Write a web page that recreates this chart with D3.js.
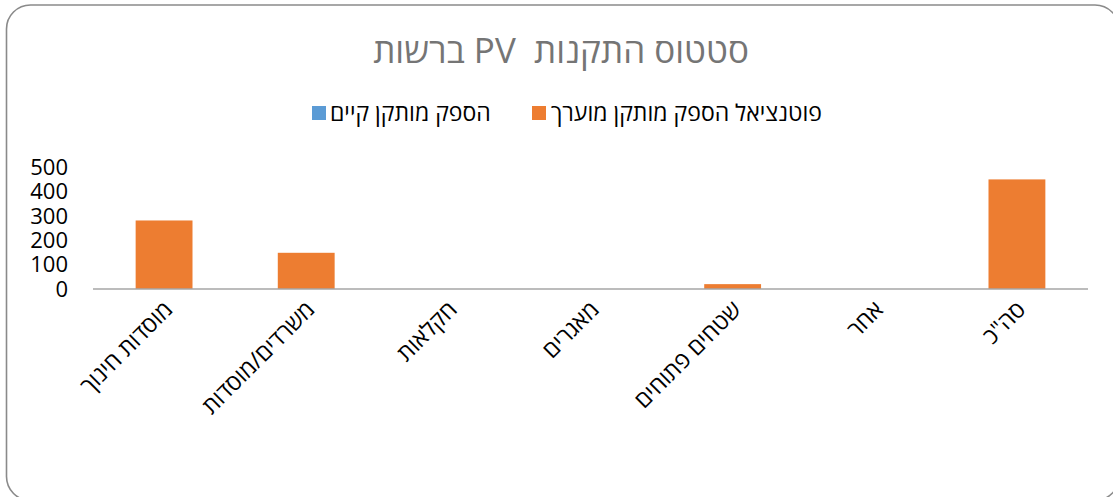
<!DOCTYPE html>
<html><head><meta charset="utf-8">
<script src="https://cdn.jsdelivr.net/npm/d3@7"></script>
<style>html,body{margin:0;padding:0;background:#fff;}svg{display:block;}</style>
</head><body>
<svg id="c" width="1113" height="497"></svg>
<script>
const categories = ["מוסדות חינוך","משרדים/מוסדות","חקלאות","מאגרים","שטחים פתוחים","אחר","סה\"כ"];
const seriesNames = ["פוטנציאל הספק מותקן מוערך","הספק מותקן קיים"];
const potentialValues = [282, 149, 0, 0, 20, 0, 451];
const existingValues = [0, 0, 0, 0, 0, 0, 0];
const yTicks = [0, 100, 200, 300, 400, 500];
const titleText = "סטטוס התקנות  PV ברשות";

const FONT = "'Open Sans','DejaVu Sans',sans-serif";
const colors = ["#ED7D31", "#5B9BD5"];
const svg = d3.select("#c");

// border
svg.append("rect").attr("x",6.5).attr("y",5).attr("width",1112.5).attr("height",495.5)
  .attr("rx",24).attr("ry",24).attr("fill","#fff").attr("stroke","#8a8a8a").attr("stroke-width",1.6);

// title
svg.append("text").attr("x",561).attr("y",63).attr("text-anchor","middle").attr("direction","rtl")
  .style("white-space","pre")
  .attr("font-family",FONT).attr("font-size",35).attr("fill","#757575").text(titleText);

const x = d3.scaleBand().domain(categories).range([93,1088]).paddingInner(0.6).paddingOuter(0.3);
const y = d3.scaleLinear().domain([0,500]).range([289,167.5]);

// bars
const seriesData = [existingValues, potentialValues];
const seriesColors = [colors[1], colors[0]];
seriesData.forEach((vals,si)=>{
  svg.append("g").selectAll("rect").data(categories).join("rect")
    .attr("x",d=>x(d)).attr("width",x.bandwidth())
    .attr("y",(d,i)=>y(vals[i])).attr("height",(d,i)=>y(0)-y(vals[i]))
    .attr("fill",seriesColors[si]);
});

// y axis (labels only)
const yAxis = d3.axisLeft(y).tickValues(yTicks).tickSize(0).tickPadding(0);
const yg = svg.append("g").attr("transform","translate(68,0)").call(yAxis);
yg.select(".domain").remove();
yg.selectAll("text").attr("font-family",FONT).attr("font-size",22).attr("fill","#000");

// x axis
const xAxis = d3.axisBottom(x).tickSize(0).tickPadding(0);
const xg = svg.append("g").attr("transform","translate(0,289)").call(xAxis);
xg.select(".domain").attr("stroke","#a6a6a6").attr("stroke-width",1.5).attr("d","M93,0H1088");
xg.selectAll("text").attr("font-family",FONT).attr("font-size",23).attr("fill","#000")
  .attr("text-anchor","end").attr("dy",null).attr("y",null)
  .attr("transform","translate(10,22) rotate(-45)");

// legend
const legend = [
  {name: seriesNames[0], color: colors[0], sx: 532, tx: 551},
  {name: seriesNames[1], color: colors[1], sx: 312, tx: 330}
];
const lg = svg.append("g");
legend.forEach(l=>{
  lg.append("rect").attr("x",l.sx).attr("y",106).attr("width",14).attr("height",14).attr("fill",l.color);
  lg.append("text").attr("x",l.tx).attr("y",121).attr("font-family",FONT).attr("font-size",23)
    .attr("fill","#000").attr("text-anchor","start").text(l.name);
});
</script>
</body></html>
